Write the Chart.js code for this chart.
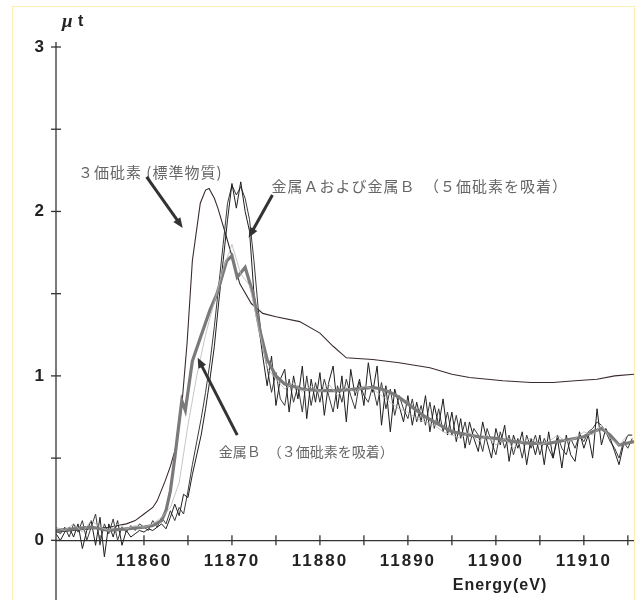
<!DOCTYPE html>
<html>
<head>
<meta charset="utf-8">
<script src="https://cdn.jsdelivr.net/npm/chart.js@4"></script>
<style>
  body { margin: 0; background: #fff; }
  #wrap { width: 644px; height: 600px; position: relative; }
</style>
</head>
<body>
<div id="wrap"><canvas id="chart" width="644" height="600"></canvas></div>
<script>
// As(III) standard, smooth curve (energy / mu t)
var stdEnergy = [11850, 11852, 11854, 11856, 11858, 11859, 11860, 11861, 11861.5, 11862.4, 11863, 11863.7, 11864.3, 11864.9, 11865.5, 11866.4, 11867, 11867.4, 11868, 11868.4, 11869.4, 11870.9, 11872.2, 11873.5, 11875, 11877.7, 11880, 11881.5, 11883, 11886, 11889, 11892.5, 11895, 11897, 11900.8, 11904, 11906.5, 11909, 11911.5, 11913.5, 11915.7];
var stdValues = [0.05, 0.06, 0.07, 0.08, 0.10, 0.12, 0.16, 0.20, 0.24, 0.36, 0.45, 0.58, 0.82, 1.20, 1.70, 2.05, 2.13, 2.14, 2.08, 2.02, 1.84, 1.56, 1.44, 1.38, 1.36, 1.33, 1.26, 1.18, 1.11, 1.10, 1.08, 1.05, 1.01, 0.99, 0.97, 0.96, 0.96, 0.97, 0.98, 1.00, 1.01];

// metal A / metal B with As(V): sampled every 0.5 eV from 11850
var gridStart = 11850, gridStep = 0.5;
var metalAV = [
  0.04, 0.00, 0.05, 0.08, 0.02, 0.10, -0.05, 0.06, 0.12, -0.03, 0.14, -0.10,
  0.10, 0.02, 0.12, -0.03, 0.06, 0.02, 0.04, 0.06, 0.05, 0.07, 0.06, 0.08,
  0.10, 0.07, 0.14, 0.22, 0.15, 0.28, 0.26, 0.40, 0.52, 0.64, 0.80, 0.98,
  1.18, 1.45, 1.70, 1.95, 2.17, 2.02, 2.18, 2.00, 1.88, 1.50, 1.32, 1.12,
  0.94, 1.12, 0.82, 0.98, 1.04, 0.78, 1.00, 0.86, 1.06, 0.74, 0.98, 0.84,
  1.02, 0.76, 0.96, 1.06, 0.80, 1.00, 0.72, 1.04, 0.88, 0.98, 0.82, 1.08,
  0.90, 1.06, 0.70, 0.94, 0.66, 0.92, 0.82, 0.72, 0.88, 0.70, 0.84, 0.72,
  0.88, 0.66, 0.82, 0.70, 0.86, 0.64, 0.78, 0.60, 0.74, 0.56, 0.72, 0.62,
  0.54, 0.72, 0.60, 0.50, 0.68, 0.58, 0.70, 0.48, 0.64, 0.56, 0.66, 0.46,
  0.62, 0.52, 0.64, 0.46, 0.66, 0.50, 0.62, 0.44, 0.64, 0.52, 0.48, 0.66,
  0.56, 0.64, 0.50, 0.80, 0.58, 0.68, 0.62, 0.54, 0.46, 0.58, 0.64, 0.64
];
var metalBV = [
  0.06, 0.04, 0.08, 0.02, 0.10, 0.05, 0.12, 0.00, 0.08, 0.16, -0.02, 0.10,
  0.04, 0.13, 0.00, 0.08, 0.05, 0.09, 0.06, 0.10, 0.08, 0.06, 0.12, 0.08,
  0.14, 0.10, 0.18, 0.12, 0.20, 0.16, 0.30, 0.46, 0.60, 0.74, 0.90, 1.08,
  1.30, 1.55, 1.80, 2.05, 2.16, 2.10, 2.15, 2.08, 1.95, 1.70, 1.40, 1.18,
  1.05, 0.90, 1.02, 0.86, 0.82, 0.98, 0.84, 0.94, 0.78, 1.00, 0.82, 0.96,
  0.84, 0.98, 0.88, 0.78, 0.94, 0.84, 0.98, 0.88, 0.80, 0.96, 0.88, 0.84,
  0.94, 0.82, 0.96, 0.80, 0.92, 0.76, 0.88, 0.80, 0.74, 0.86, 0.72, 0.82,
  0.70, 0.84, 0.68, 0.80, 0.66, 0.78, 0.64, 0.76, 0.62, 0.72, 0.58, 0.68,
  0.64, 0.54, 0.68, 0.60, 0.52, 0.66, 0.56, 0.64, 0.52, 0.62, 0.50, 0.64,
  0.56, 0.64, 0.52, 0.62, 0.56, 0.50, 0.64, 0.56, 0.52, 0.62, 0.56, 0.64,
  0.60, 0.66, 0.68, 0.72, 0.70, 0.66, 0.60, 0.56, 0.50, 0.60, 0.56, 0.62
];

// metal B with As(III): thick grey smoothed curve
var bIIIEnergy = [11850, 11852, 11854, 11856, 11858, 11860, 11861, 11862, 11862.5, 11863, 11863.5, 11864, 11864.3, 11864.7, 11865.5, 11866.4, 11867.5, 11868.3, 11869.4, 11870, 11870.6, 11871.5, 11872.4, 11873.2, 11874, 11875, 11876, 11878, 11880, 11882, 11884, 11886, 11887, 11888, 11889, 11890, 11891, 11892, 11893, 11894, 11895, 11896, 11898, 11900, 11902, 11904, 11906, 11908, 11910, 11911, 11912, 11913, 11914, 11915.7];
var bIIIValues = [0.06, 0.07, 0.08, 0.06, 0.07, 0.08, 0.09, 0.12, 0.18, 0.30, 0.50, 0.72, 0.85, 0.79, 1.09, 1.23, 1.40, 1.50, 1.70, 1.73, 1.60, 1.66, 1.50, 1.27, 1.10, 1.00, 0.95, 0.92, 0.91, 0.91, 0.92, 0.93, 0.92, 0.90, 0.87, 0.83, 0.79, 0.75, 0.72, 0.69, 0.66, 0.65, 0.63, 0.62, 0.60, 0.59, 0.59, 0.61, 0.63, 0.66, 0.68, 0.64, 0.58, 0.60];

// faint thin raw trace, every 1 eV from 11850
var rawStep = 1;
var rawIII = [
  0.08, 0.06, 0.10, 0.05, 0.12, 0.08, 0.06, 0.10, 0.07, 0.09, 0.08, 0.10,
  0.14, 0.20, 0.35, 0.70, 1.00, 1.25, 1.45, 1.65, 1.80, 1.62, 1.55, 1.30,
  1.05, 0.98, 0.92, 0.96, 0.90, 0.94, 0.90, 0.95, 0.88, 0.93, 0.90, 0.94,
  0.92, 0.88, 0.84, 0.80, 0.78, 0.74, 0.72, 0.70, 0.66, 0.64, 0.62, 0.66,
  0.60, 0.64, 0.58, 0.62, 0.56, 0.60, 0.62, 0.58, 0.60, 0.64, 0.60, 0.62,
  0.66, 0.64, 0.70, 0.62, 0.58, 0.64
];

// axis
var yTickLabels = ["0", "1", "2", "3"];
var xTickLabels = ["11860", "11870", "11880", "11890", "11900", "11910"];

// annotations: label position and arrow (tail -> head) in data units
var notes = [
  { text: "３価砒素 (標準物質)", at: [11852.5, 2.24], from: [11860.3, 2.21], to: [11864.4, 1.90] },
  { text: "金属Ａおよび金属Ｂ　（５価砒素を吸着）", at: [11874.5, 2.15], from: [11874.6, 2.10], to: [11871.9, 1.84] },
  { text: "金属Ｂ　（３価砒素を吸着）", at: [11868.5, 0.54], from: [11870.6, 0.64], to: [11866.1, 1.11] }
];

var pair = (xs, ys) => xs.map((x, i) => ({ x: x, y: ys[i] }));
var onGrid = (start, step, ys) => ys.map((y, i) => ({ x: start + i * step, y: y }));

var overlay = {
  id: "overlay",
  beforeDraw: function(chart) {
    // the scanned tick numbers are widely spaced
    chart.ctx.letterSpacing = "2px";
  },
  afterDraw: function(chart) {
    var ctx = chart.ctx, x = chart.scales.x, y = chart.scales.y;
    ctx.save();
    ctx.letterSpacing = "0px";
    // yellowish scan frame
    ctx.strokeStyle = "#fbefb4";
    ctx.lineWidth = 1;
    ctx.strokeRect(12.5, 6.5, 622, 600);

    // crossing ticks
    ctx.strokeStyle = "#333";
    ctx.lineWidth = 1.3;
    var y0 = y.getPixelForValue(0);
    y.ticks.forEach(function(t) {
      var py = y.getPixelForValue(t.value);
      ctx.beginPath(); ctx.moveTo(x.left - 5, py); ctx.lineTo(x.left + 5, py); ctx.stroke();
    });
    x.ticks.forEach(function(t) {
      if (t.value === x.min) return;
      var px = x.getPixelForValue(t.value);
      ctx.beginPath(); ctx.moveTo(px, y0 - 5); ctx.lineTo(px, y0 + 5); ctx.stroke();
    });
    // y axis runs a bit above 3 and down to the page edge
    ctx.beginPath(); ctx.moveTo(x.left, y.top - 5); ctx.lineTo(x.left, chart.height); ctx.stroke();

    // axis titles
    ctx.fillStyle = "#222";
    ctx.textBaseline = "alphabetic";
    ctx.textAlign = "left";
    ctx.font = "italic bold 19px 'Liberation Serif'";
    ctx.fillText("μ", 62, 27);
    ctx.font = "bold 16px 'Liberation Sans'";
    ctx.fillText("t", 78, 26);
    ctx.textBaseline = "middle";
    ctx.textAlign = "center";
    ctx.font = "bold 16px 'Liberation Sans'";
    ctx.letterSpacing = "1px";
    ctx.fillText("Energy(eV)", 500, 586);

    // notes
    ctx.textAlign = "left";
    ctx.fillStyle = "#666";
    notes.forEach(function(n, i) {
      if (i < 2) { ctx.font = "15px 'Noto Sans CJK JP'"; ctx.letterSpacing = "1px"; }
      else { ctx.font = "14px 'Noto Sans CJK JP'"; ctx.letterSpacing = "0px"; }
      ctx.fillText(n.text, x.getPixelForValue(n.at[0]), y.getPixelForValue(n.at[1]));
    });
    ctx.letterSpacing = "0px";
    ctx.strokeStyle = "#333";
    ctx.fillStyle = "#333";
    ctx.lineWidth = 3;
    notes.forEach(function(n) {
      var x1 = x.getPixelForValue(n.from[0]), y1 = y.getPixelForValue(n.from[1]);
      var x2 = x.getPixelForValue(n.to[0]), y2 = y.getPixelForValue(n.to[1]);
      var a = Math.atan2(y2 - y1, x2 - x1), h = 11;
      ctx.beginPath();
      ctx.moveTo(x1, y1);
      ctx.lineTo(x2 - Math.cos(a) * h * 0.8, y2 - Math.sin(a) * h * 0.8);
      ctx.stroke();
      ctx.beginPath();
      ctx.moveTo(x2, y2);
      ctx.lineTo(x2 - h * Math.cos(a - 0.4), y2 - h * Math.sin(a - 0.4));
      ctx.lineTo(x2 - h * Math.cos(a + 0.4), y2 - h * Math.sin(a + 0.4));
      ctx.closePath();
      ctx.fill();
    });
    ctx.restore();
  }
};

var ctx = document.getElementById("chart").getContext("2d");
var chart = new Chart(ctx, {
  type: "line",
  data: {
    datasets: [
      { label: "raw", data: onGrid(gridStart, rawStep, rawIII), borderColor: "#b8b8b8", borderWidth: 0.8 },
      { label: "金属B (3価)", data: pair(bIIIEnergy, bIIIValues), borderColor: "#7a7a7a", borderWidth: 3.2 },
      { label: "金属A (5価)", data: onGrid(gridStart, gridStep, metalAV), borderColor: "#1e1e1e", borderWidth: 1 },
      { label: "金属B (5価)", data: onGrid(gridStart, gridStep, metalBV), borderColor: "#3a3a3a", borderWidth: 1 },
      { label: "3価砒素", data: pair(stdEnergy, stdValues), borderColor: "#3b2b2b", borderWidth: 1.1 }
    ]
  },
  options: {
    responsive: false,
    animation: false,
    layout: { padding: { top: 47, right: 10, bottom: 0, left: 0 } },
    elements: { point: { radius: 0 }, line: { tension: 0 } },
    plugins: { legend: { display: false }, tooltip: { enabled: false } },
    scales: {
      x: {
        type: "linear",
        position: { y: 0 },
        min: 11850,
        max: 11915.7,
        afterFit: function(scale) { scale.height = 0; },
        grid: { display: false, drawTicks: false },
        border: { display: true, color: "#333", width: 1.3 },
        ticks: {
          stepSize: 5,
          autoSkip: false,
          maxRotation: 0,
          includeBounds: false,
          padding: 11,
          color: "#222",
          font: { family: "'Liberation Sans'", size: 17, weight: "bold" },
          callback: function(v) {
            var s = String(v);
            return xTickLabels.indexOf(s) >= 0 ? s : "";
          }
        }
      },
      y: {
        min: -0.24,
        max: 3,
        afterFit: function(scale) { scale.width = 56; },
        grid: { display: false, drawTicks: false },
        border: { display: false },
        ticks: {
          stepSize: 0.5,
          includeBounds: false,
          padding: 10,
          color: "#222",
          font: { family: "'Liberation Sans'", size: 17, weight: "bold" },
          callback: function(v) {
            var s = String(v);
            return yTickLabels.indexOf(s) >= 0 ? s : "";
          }
        }
      }
    }
  },
  plugins: [overlay]
});
</script>
</body>
</html>
